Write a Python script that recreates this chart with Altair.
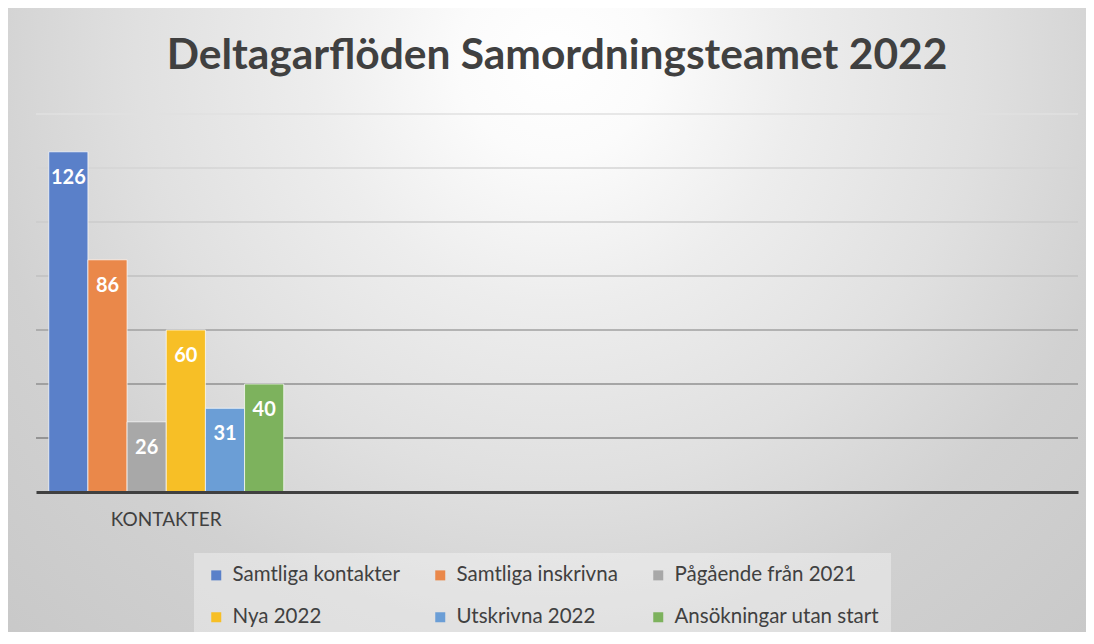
import altair as alt
import pandas as pd

title_text = "Deltagarflöden Samordningsteamet 2022"
categories = ["KONTAKTER", " ", "  ", "   "]
series = ["Samtliga kontakter", "Samtliga inskrivna", "Pågående från 2021",
          "Nya 2022", "Utskrivna 2022", "Ansökningar utan start"]
values = [126, 86, 26, 60, 31, 40]
colors = ["#5A80C9", "#EA884A", "#A8A8A8", "#F7BF26", "#6B9ED6", "#7DB25D"]
grid_values = [20, 40, 60, 80, 100, 120, 140]

W, H = 1042, 378
PAD = {"left": 28, "top": 106, "right": 8, "bottom": 140}
FONT = "Lato"

df = pd.DataFrame({"cat": [categories[0]] * len(series), "series": series, "value": values})
grid_df = pd.DataFrame({"v": grid_values})
bg_df = pd.DataFrame({"a": [0]})

side = W + PAD["left"] + PAD["right"]
cx = (548) / side
cy = (52) / side
gradient = {
    "gradient": "radial",
    "x1": cx, "y1": cy, "r1": 0,
    "x2": cx, "y2": cy, "r2": 0.75,
    "stops": [
        {"offset": 0, "color": "#ffffff"},
        {"offset": 0.12, "color": "#fbfbfb"},
        {"offset": 0.3, "color": "#ededed"},
        {"offset": 0.52, "color": "#e0e0e0"},
        {"offset": 0.72, "color": "#d1d1d1"},
        {"offset": 1, "color": "#c8c8c8"},
    ],
}

bg = alt.Chart(bg_df).mark_rect(color=gradient).encode(
    x=alt.value(-PAD["left"]), x2=alt.value(W + PAD["right"]),
    y=alt.value(-PAD["top"]), y2=alt.value(-PAD["top"] + side),
)

yscale = alt.Scale(domain=[0, 140], nice=False)

grid = alt.Chart(grid_df).mark_rule(strokeWidth=1.4).encode(
    y=alt.Y("v:Q", scale=yscale, axis=None),
    stroke=alt.Stroke("v:Q", scale=alt.Scale(domain=[20, 60, 80, 140],
                                             range=["#808080", "#a0a0a0", "#c0c0c0", "#e0e0e0"]),
                      legend=None),
)

xscale = alt.Scale(domain=categories, paddingInner=0.098, paddingOuter=0.049)
xenc = alt.X("cat:N", scale=xscale,
             axis=alt.Axis(title=None, ticks=False, domainColor="#404040", domainWidth=3,
                           labelFont=FONT, labelFontSize=19, labelColor="#404040",
                           labelPadding=18, labelAngle=0, grid=False, zindex=1))
xoff = alt.XOffset("series:N", sort=series, scale=alt.Scale(paddingInner=0, paddingOuter=0))

bars = alt.Chart(df).mark_bar(stroke="white", strokeWidth=1, strokeOpacity=0.7).encode(
    x=xenc,
    xOffset=xoff,
    y=alt.Y("value:Q", scale=yscale, axis=None),
    color=alt.Color("series:N", sort=series, scale=alt.Scale(domain=series, range=colors),
                    legend=alt.Legend(orient="none", legendX=158, legendY=439,
                                      direction="horizontal", columns=3, title=None,
                                      symbolType="square", symbolSize=100, symbolStrokeWidth=0,
                                      labelFont=FONT, labelFontSize=20.5, labelColor="#404040",
                                      labelOffset=6, labelLimit=400,
                                      rowPadding=21, columnPadding=30,
                                      padding=12, fillColor="rgba(255,255,255,0.35)")),
)

labels = alt.Chart(df).mark_text(baseline="middle", dy=26, color="white",
                                 font=FONT, fontWeight="bold", fontSize=20).encode(
    x=alt.X("cat:N", scale=xscale),
    xOffset=xoff,
    y=alt.Y("value:Q", scale=yscale),
    text=alt.Text("value:Q"),
)

chart = alt.layer(bg, grid, bars, labels).properties(
    width=W, height=H,
    padding=PAD,
    autosize=alt.AutoSizeParams(type="none"),
    background="white",
    title=alt.Title(title_text, font=FONT, fontSize=42.5, fontWeight="bold", color="#404040",
                    anchor="middle", frame="group", baseline="alphabetic", offset=-103),
).configure_view(stroke=None)

chart.save("out.html", embed_options={"renderer": "svg", "actions": False})
